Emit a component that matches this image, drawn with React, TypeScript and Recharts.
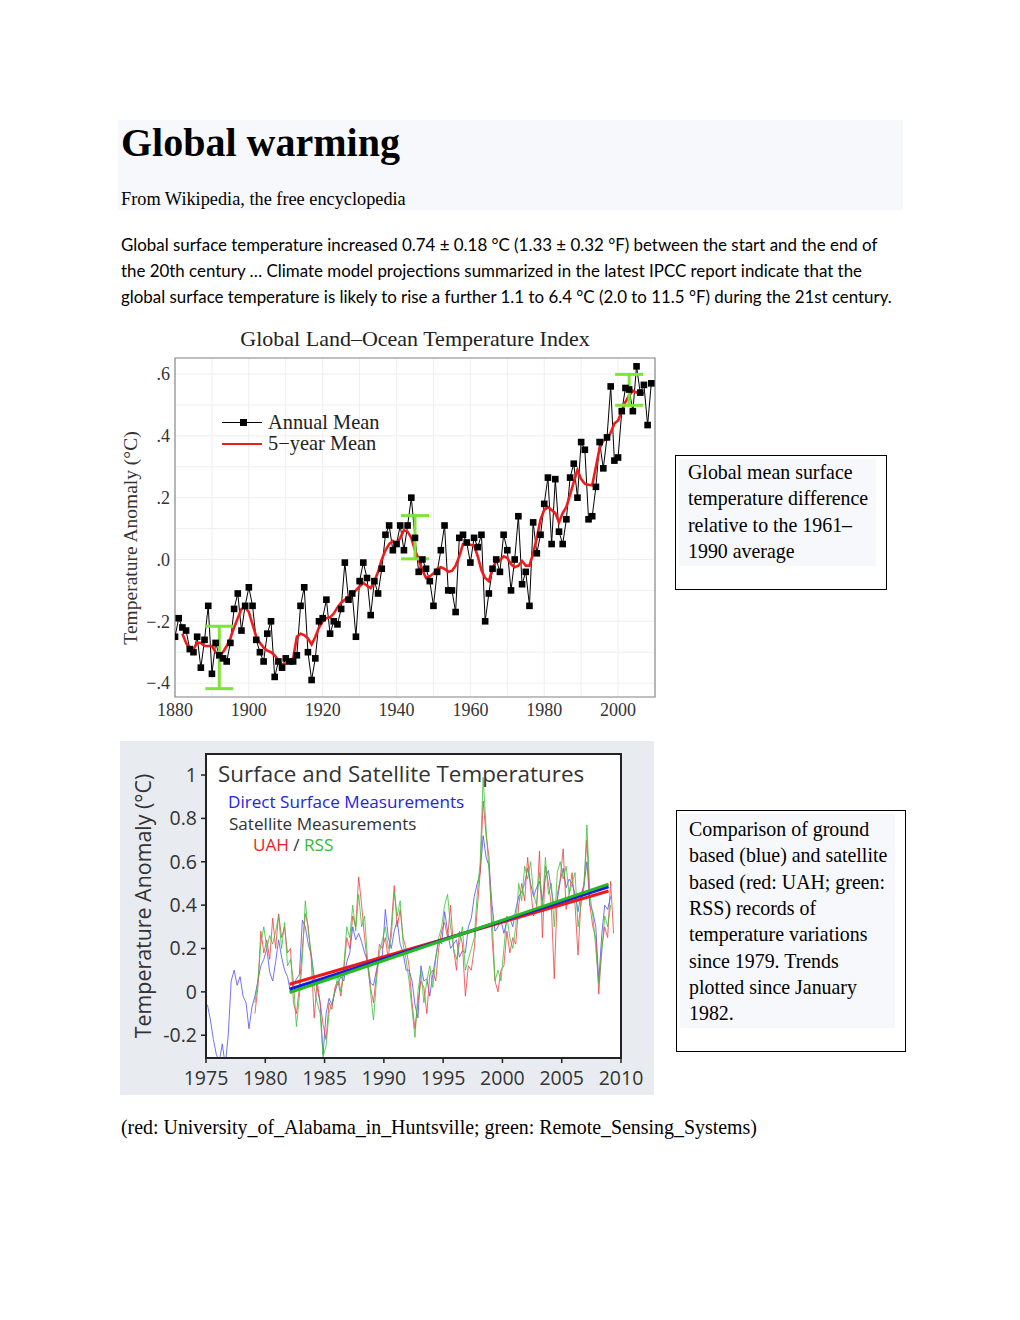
import React from 'react';
import {
  ComposedChart,
  LineChart,
  Line,
  XAxis,
  YAxis,
  CartesianGrid,
  Scatter,
  ErrorBar,
  ReferenceArea,
} from 'recharts';

// ---------- Chart 1: Global Land–Ocean Temperature Index ----------
const annualStartYear = 1880;
const annualMean = [
  -0.25, -0.19, -0.22, -0.23, -0.29, -0.3, -0.25, -0.35, -0.26, -0.15,
  -0.37, -0.27, -0.31, -0.32, -0.33, -0.27, -0.16, -0.11, -0.23, -0.15,
  -0.09, -0.15, -0.26, -0.3, -0.33, -0.24, -0.2, -0.38, -0.33, -0.35,
  -0.32, -0.33, -0.33, -0.31, -0.15, -0.09, -0.3, -0.39, -0.32, -0.2,
  -0.19, -0.13, -0.24, -0.2, -0.21, -0.16, -0.01, -0.13, -0.11, -0.25,
  -0.07, -0.01, -0.06, -0.18, -0.07, -0.11, -0.03, 0.08, 0.11, 0.03,
  0.05, 0.11, 0.03, 0.11, 0.2, 0.07, -0.04, 0.0, -0.03, -0.07,
  -0.15, -0.04, 0.03, 0.11, -0.1, -0.1, -0.17, 0.07, 0.08, 0.055,
  -0.01, 0.07, 0.04, 0.08, -0.2, -0.11, -0.03, 0.0, -0.04, 0.08,
  0.03, -0.1, 0.0, 0.14, -0.08, -0.04, -0.15, 0.12, 0.02, 0.08,
  0.18, 0.265, 0.05, 0.26, 0.09, 0.05, 0.13, 0.265, 0.31, 0.2,
  0.38, 0.355, 0.13, 0.14, 0.235, 0.38, 0.295, 0.395, 0.56, 0.32,
  0.33, 0.48, 0.555, 0.55, 0.48, 0.625, 0.54, 0.565, 0.435, 0.57,
];

const fiveYearStartYear = 1882;
const fiveYearMean = [
  -0.24, -0.27, -0.29, -0.29, -0.27, -0.27, -0.28, -0.28,
  -0.28, -0.3, -0.31, -0.3, -0.28, -0.255, -0.22, -0.19, -0.16, -0.155,
  -0.17, -0.21, -0.25, -0.27, -0.285, -0.295, -0.3, -0.31, -0.326, -0.34,
  -0.337, -0.33, -0.32, -0.25, -0.24, -0.245, -0.255, -0.275, -0.25, -0.22,
  -0.2, -0.19, -0.187, -0.175, -0.155, -0.14, -0.13, -0.12, -0.11, -0.1,
  -0.087, -0.076, -0.085, -0.093, -0.07, -0.04, 0.0, 0.03, 0.05, 0.06,
  0.05, 0.07, 0.095, 0.09, 0.07, 0.03, 0.0, -0.035, -0.06, -0.055,
  -0.045, -0.03, -0.025, -0.03, -0.04, -0.037, -0.02, 0.01, 0.05, 0.05,
  0.048, 0.045, 0.01, -0.035, -0.06, -0.07, -0.03, -0.005, -0.003, 0.01,
  0.005, -0.015, -0.025, -0.02, -0.005, -0.02, -0.02, 0.02, 0.07, 0.13,
  0.16, 0.17, 0.16, 0.15, 0.12, 0.15, 0.17, 0.21, 0.25, 0.29,
  0.26, 0.245, 0.242, 0.24, 0.3, 0.36, 0.385, 0.39, 0.41, 0.44,
  0.45, 0.48, 0.51, 0.53, 0.546, 0.54, 0.546, 0.535,
];

const uncertaintyYears = [1892, 1945, 2003];
const uncertaintyMid = [-0.317, 0.072, 0.549];
const uncertaintyHalf = [0.101, 0.07, 0.05];

const xTicks1 = [1880, 1890, 1900, 1910, 1920, 1930, 1940, 1950, 1960, 1970, 1980, 1990, 2000, 2010];
const xTickLabels1 = ['1880', '', '1900', '', '1920', '', '1940', '', '1960', '', '1980', '', '2000', ''];
const yTicks1 = [-0.4, -0.3, -0.2, -0.1, 0, 0.1, 0.2, 0.3, 0.4, 0.5, 0.6];
const yTickLabels1 = ['\u2212.4', '', '\u2212.2', '', '.0', '', '.2', '', '.4', '', '.6'];
const yDomain1: [number, number] = [-0.445, 0.652];
const xDomain1: [number, number] = [1880, 2010];

// ---------- Chart 2: Surface and Satellite Temperatures ----------
const surfaceStart = 1975;
const satelliteStart = 1979;
const quarterStep = 0.25;
const surfaceQ = [
  -0.06, -0.13, -0.22, -0.29,
  -0.32, -0.24, -0.34, -0.2,
  0.05, 0.1, 0.03, 0.07,
  -0.02, -0.05, -0.17, -0.07,
  -0.02, 0.05, 0.12, 0.15,
  0.2, 0.09, 0.05, 0.14,
  0.24, 0.16, 0.1, 0.07,
  0.0, 0.03, 0.06, 0.08,
  0.33, 0.3, 0.22, 0.17,
  0.07, 0.02, -0.05, -0.29,
  -0.1, -0.03, -0.06, 0.0,
  0.04, 0.07, 0.05, 0.14,
  0.18, 0.3, 0.24, 0.27,
  0.23, 0.18, 0.14, 0.04,
  0.03, 0.1, 0.15, 0.17,
  0.38, 0.25, 0.2, 0.28,
  0.33, 0.22, 0.18, 0.1,
  0.1, 0.05, -0.06, -0.12,
  0.12, 0.05, 0.06, -0.02,
  0.08, 0.16, 0.24, 0.22,
  0.37, 0.28, 0.2, 0.22,
  0.24, 0.16, 0.19, 0.18,
  0.3, 0.34, 0.44, 0.5,
  0.55, 0.72, 0.62, 0.58,
  0.4, 0.28, 0.3, 0.33,
  0.27, 0.33, 0.34, 0.3,
  0.38, 0.44, 0.46, 0.5,
  0.57, 0.5, 0.44, 0.48,
  0.51, 0.42, 0.53, 0.56,
  0.47, 0.39, 0.42, 0.51,
  0.57, 0.48, 0.52, 0.5,
  0.45, 0.37, 0.45, 0.49,
  0.6, 0.4, 0.37, 0.3,
  0.05, 0.26, 0.4, 0.38,
  0.44,
];
const uahQ = [
  -0.1, 0.02, 0.28, 0.18,
  0.24, 0.15, 0.34, 0.2,
  0.36, 0.25, 0.3, 0.18,
  0.2, -0.05, -0.1, 0.02,
  0.2, 0.36, 0.3, 0.15,
  -0.12, 0.05, -0.05, -0.15,
  -0.22, -0.05, -0.08, 0.02,
  0.05, -0.02, 0.1, 0.25,
  0.2, 0.35, 0.3, 0.53,
  0.4, 0.25, 0.12, 0.02,
  -0.05, 0.08, 0.22, 0.2,
  0.25, 0.15, 0.3, 0.49,
  0.3, 0.38, 0.25, 0.2,
  0.12, -0.05, -0.17, -0.05,
  0.05, 0.02, -0.1, 0.08,
  0.1, 0.05, 0.2, 0.28,
  0.32, 0.25, 0.4, 0.2,
  0.1, 0.28, 0.22, -0.02,
  0.12, 0.1, 0.2, 0.38,
  0.55, 0.88, 0.72, 0.62,
  0.25, 0.05, 0.0, 0.1,
  0.12, 0.28, 0.18, 0.25,
  0.22, 0.4, 0.5, 0.42,
  0.62, 0.48, 0.35, 0.38,
  0.65, 0.25, 0.58, 0.5,
  0.4, 0.06, 0.45, 0.52,
  0.66, 0.38, 0.45, 0.55,
  0.4, 0.17, 0.42, 0.5,
  0.7, 0.4, 0.3, 0.25,
  -0.01, 0.2, 0.3, 0.25,
  0.51, 0.27,
];
const rssQ = [
  -0.05, 0.05, 0.22, 0.3,
  0.2, 0.26, 0.22, 0.28,
  0.35, 0.2, 0.32, 0.12,
  0.15, 0.05, -0.16, -0.02,
  0.15, 0.42, 0.28, 0.18,
  0.02, -0.05, -0.1, -0.3,
  -0.25, -0.1, -0.05, 0.0,
  0.08, 0.0, 0.12, 0.3,
  0.25, 0.4, 0.28, 0.45,
  0.3, 0.35, 0.15, 0.0,
  -0.13, 0.05, 0.18, 0.24,
  0.3, 0.2, 0.25, 0.46,
  0.35, 0.42, 0.22, 0.15,
  0.05, -0.08, -0.21, 0.0,
  0.1, -0.05, 0.05, 0.12,
  0.02, 0.15, 0.25, 0.3,
  0.4, 0.45, 0.3, 0.2,
  0.15, 0.22, 0.3, 0.1,
  0.15, 0.2, 0.25, 0.45,
  0.6, 0.99, 0.75, 0.55,
  0.35, 0.05, 0.1, 0.05,
  0.2, 0.35, 0.25, 0.2,
  0.3, 0.5, 0.42, 0.58,
  0.52, 0.6, 0.45, 0.4,
  0.55, 0.4, 0.62, 0.45,
  0.5, 0.3, 0.55, 0.6,
  0.52, 0.58, 0.45, 0.5,
  0.55, 0.3, 0.4, 0.48,
  0.77, 0.45, 0.35, 0.2,
  0.04, 0.18, 0.35, 0.3,
  0.4,
];
const trendYears = [1982.05, 2008.95];
const uahTrend = [0.035, 0.465];
const surfaceTrend = [0.012, 0.485];
const rssTrend = [-0.003, 0.497];

const xTicks2 = [1975, 1980, 1985, 1990, 1995, 2000, 2005, 2010];
const yTicks2 = [-0.2, 0, 0.2, 0.4, 0.6, 0.8, 1];
const yTickLabels2 = ['-0.2', '0', '0.2', '0.4', '0.6', '0.8', '1'];
const xDomain2: [number, number] = [1975, 2010];
const yDomain2: [number, number] = [-0.305, 1.097];

// ---------- Tables built from the arrays ----------
const annualData = annualMean.map((v, i) => ({ year: annualStartYear + i, v }));
const fiveYearData = fiveYearMean.map((v, i) => ({ year: fiveYearStartYear + i, v }));
const uncertaintyData = uncertaintyYears.map((y, i) => ({ year: y, mid: uncertaintyMid[i], err: uncertaintyHalf[i] }));

const toQuarterly = (arr: number[], start: number) => arr.map((v, i) => ({ t: start + i * quarterStep + 0.125, v }));
const surfaceData = toQuarterly(surfaceQ, surfaceStart);
const uahData = toQuarterly(uahQ, satelliteStart);
const rssData = toQuarterly(rssQ, satelliteStart);
const trendData = (vals: number[]) => trendYears.map((t, i) => ({ t, v: vals[i] }));

const SERIF = '"Liberation Serif", "Times New Roman", serif';
const SANS = '"Open Sans", "Noto Sans", sans-serif';
const BODY_SANS = 'Lato, "Open Sans", sans-serif';

const SquareDot = (props: any) => {
  const { cx, cy, index } = props;
  if (cx == null || cy == null) return <g key={`d${index}`} />;
  return <rect key={`d${index}`} x={cx - 3.3} y={cy - 3.3} width={6.6} height={6.6} fill="#000" />;
};

const abs = (left: number, top: number, extra: React.CSSProperties = {}): React.CSSProperties => ({
  position: 'absolute',
  left,
  top,
  whiteSpace: 'nowrap',
  ...extra,
});

const paragraphLines = [
  'Global surface temperature increased 0.74 \u00b1 0.18 \u00b0C (1.33 \u00b1 0.32 \u00b0F) between the start and the end of',
  'the 20th century \u2026 Climate model projections summarized in the latest IPCC report indicate that the',
  'global surface temperature is likely to rise a further 1.1 to 6.4 \u00b0C (2.0 to 11.5 \u00b0F) during the 21st century.',
];
const caption1 = ['Global mean surface', 'temperature difference', 'relative to the 1961\u2013', '1990 average'];
const caption2 = [
  'Comparison of ground',
  'based (blue) and satellite',
  'based (red: UAH; green:',
  'RSS) records of',
  'temperature variations',
  'since 1979. Trends',
  'plotted since January',
  '1982.',
];

export default function App() {
  return (
    <div style={{ position: 'absolute', left: 0, top: 0, width: 1020, height: 1320, background: '#fff', color: '#000' }}>
      {/* Header */}
      <div style={abs(118, 120, { width: 785, height: 90, background: '#f7f8fb' })} />
      <div style={abs(121, 120, { fontFamily: SERIF, fontWeight: 'bold', fontSize: 40, lineHeight: '46px' })}>Global warming</div>
      <div style={abs(121, 189, { fontFamily: SERIF, fontSize: 18.3, lineHeight: '21px' })}>From Wikipedia, the free encyclopedia</div>

      {paragraphLines.map((l, i) => (
        <div key={i} style={abs(121, 232 + i * 26, { fontFamily: BODY_SANS, fontSize: 16.9, lineHeight: '26px' })}>{l}</div>
      ))}

      {/* Chart 1 */}
      <div style={abs(175, 326, { width: 480, textAlign: 'center', fontFamily: SERIF, fontSize: 22, lineHeight: '25px', color: '#222' })}>
        Global Land{'\u2013'}Ocean Temperature Index
      </div>
      <div style={abs(131, 538, { transform: 'translate(-50%, -50%) rotate(-90deg)', fontFamily: SERIF, fontSize: 19.5, lineHeight: '22px', color: '#333' })}>
        Temperature Anomaly (°C)
      </div>
      <div style={abs(120, 320)}>
        <ComposedChart width={545} height={410} margin={{ top: 38, right: 10, bottom: 0, left: 0 }}>
          <CartesianGrid stroke="#efefef" strokeWidth={1} />
          <XAxis
            type="number"
            dataKey="year"
            domain={xDomain1}
            ticks={xTicks1}
            interval={0}
            tickFormatter={(v: number) => xTickLabels1[xTicks1.indexOf(v)] ?? ''}
            axisLine={false}
            tickLine={false}
            tickSize={0}
            tickMargin={6}
            height={33}
            tick={{ fontFamily: SERIF, fontSize: 18, fill: '#333' }}
            allowDataOverflow
          />
          <YAxis
            type="number"
            domain={yDomain1}
            ticks={yTicks1}
            interval={0}
            tickFormatter={(v: number) => yTickLabels1[yTicks1.findIndex((t) => Math.abs(t - v) < 1e-6)] ?? ''}
            axisLine={false}
            tickLine={false}
            tickSize={0}
            tickMargin={5}
            width={55}
            tick={{ fontFamily: SERIF, fontSize: 18, fill: '#333' }}
            allowDataOverflow
          />
          <ReferenceArea x1={xDomain1[0]} x2={xDomain1[1]} y1={yDomain1[0]} y2={yDomain1[1]} fill="none" stroke="#8a8a8a" strokeWidth={1.2} />
          <Line data={annualData} dataKey="v" stroke="#000" strokeWidth={1} dot={SquareDot} isAnimationActive={false} />
          <Line data={fiveYearData} dataKey="v" stroke="#f01c1c" strokeWidth={2.6} dot={false} isAnimationActive={false} />
          <Scatter data={uncertaintyData} dataKey="mid" shape={() => <g />} isAnimationActive={false}>
            <ErrorBar dataKey="err" direction="y" width={14} stroke="#7fe33a" strokeWidth={3} />
          </Scatter>
        </ComposedChart>
      </div>
      {/* Chart 1 legend */}
      <div style={abs(222, 422, { width: 40, height: 0, borderTop: '1px solid #000' })} />
      <div style={abs(240, 419, { width: 7, height: 7, background: '#000' })} />
      <div style={abs(222, 443, { width: 40, height: 0, borderTop: '2.6px solid #f01c1c' })} />
      <div style={abs(268, 411, { fontFamily: SERIF, fontSize: 20.4, lineHeight: '22px', color: '#222' })}>Annual Mean</div>
      <div style={abs(268, 432, { fontFamily: SERIF, fontSize: 20.4, lineHeight: '22px', color: '#222' })}>5{'\u2212'}year Mean</div>

      {/* Caption 1 */}
      <div style={abs(675, 455, { width: 210, height: 133, border: '1px solid #000' })} />
      <div style={abs(679, 459, { width: 197, height: 107, background: '#f7f8fb' })} />
      {caption1.map((l, i) => (
        <div key={i} style={abs(688, 459 + i * 26.3, { fontFamily: SERIF, fontSize: 19.9, lineHeight: '26.3px' })}>{l}</div>
      ))}

      {/* Chart 2 */}
      <div style={abs(120, 741, { width: 534, height: 354, background: '#e8ebef' })} />
      <div style={abs(206, 754, { width: 415, height: 304, background: '#fff' })} />
      <div style={abs(120, 741)}>
        <LineChart width={534} height={354} margin={{ top: 13, right: 33, bottom: 0, left: 0 }}>
          <XAxis
            type="number"
            dataKey="t"
            domain={xDomain2}
            ticks={xTicks2}
            interval={0}
            axisLine={{ stroke: '#222', strokeWidth: 2 }}
            tickLine={{ stroke: '#222', strokeWidth: 1.5 }}
            tickSize={5}
            tickMargin={8}
            height={37}
            tick={{ fontFamily: SANS, fontSize: 19.5, fill: '#333' }}
            allowDataOverflow
          />
          <YAxis
            type="number"
            domain={yDomain2}
            ticks={yTicks2}
            interval={0}
            tickFormatter={(v: number) => yTickLabels2[yTicks2.findIndex((t) => Math.abs(t - v) < 1e-6)] ?? ''}
            axisLine={{ stroke: '#222', strokeWidth: 2 }}
            tickLine={{ stroke: '#222', strokeWidth: 1.5 }}
            tickSize={5}
            tickMargin={4}
            width={86}
            tick={{ fontFamily: SANS, fontSize: 19.5, fill: '#333' }}
            allowDataOverflow
          />
          <ReferenceArea x1={xDomain2[0]} x2={xDomain2[1]} y1={yDomain2[0]} y2={yDomain2[1]} fill="none" stroke="#222" strokeWidth={2} />
          <Line data={surfaceData} dataKey="v" stroke="#5b5bf2" strokeOpacity={0.85} strokeWidth={1} dot={false} isAnimationActive={false} />
          <Line data={uahData} dataKey="v" stroke="#ee4040" strokeOpacity={0.8} strokeWidth={1} dot={false} isAnimationActive={false} />
          <Line data={rssData} dataKey="v" stroke="#3cbf3c" strokeOpacity={0.8} strokeWidth={1} dot={false} isAnimationActive={false} />
          <Line data={trendData(uahTrend)} dataKey="v" stroke="#ee1a1a" strokeWidth={3} dot={false} isAnimationActive={false} />
          <Line data={trendData(surfaceTrend)} dataKey="v" stroke="#1a1ae0" strokeWidth={3} dot={false} isAnimationActive={false} />
          <Line data={trendData(rssTrend)} dataKey="v" stroke="#22bb22" strokeWidth={3} dot={false} isAnimationActive={false} />
        </LineChart>
      </div>
      <div style={abs(218, 759, { fontFamily: SANS, fontSize: 22.4, lineHeight: '30px', color: '#333' })}>Surface and Satellite Temperatures</div>
      <div style={abs(228, 790, { fontFamily: SANS, fontSize: 17.1, lineHeight: '23px', color: '#2424e6' })}>Direct Surface Measurements</div>
      <div style={abs(229, 812, { fontFamily: SANS, fontSize: 17.1, lineHeight: '23px', color: '#333' })}>Satellite Measurements</div>
      <div style={abs(253, 833, { fontFamily: SANS, fontSize: 17.1, lineHeight: '23px' })}>
        <span style={{ color: '#ee2222' }}>UAH</span>
        <span style={{ color: '#333' }}> / </span>
        <span style={{ color: '#33bb33' }}>RSS</span>
      </div>
      <div style={abs(143, 906, { transform: 'translate(-50%, -50%) rotate(-90deg)', fontFamily: SANS, fontSize: 21.4, lineHeight: '24px', color: '#333' })}>
        Temperature Anomaly (°C)
      </div>

      {/* Caption 2 */}
      <div style={abs(676, 810, { width: 228, height: 240, border: '1px solid #000' })} />
      <div style={abs(680, 814, { width: 215, height: 214, background: '#f7f8fb' })} />
      {caption2.map((l, i) => (
        <div key={i} style={abs(689, 816 + i * 26.3, { fontFamily: SERIF, fontSize: 19.9, lineHeight: '26.3px' })}>{l}</div>
      ))}

      <div style={abs(121, 1114, { fontFamily: SERIF, fontSize: 19.9, lineHeight: '26.3px' })}>
        (red: University_of_Alabama_in_Huntsville; green: Remote_Sensing_Systems)
      </div>
    </div>
  );
}
